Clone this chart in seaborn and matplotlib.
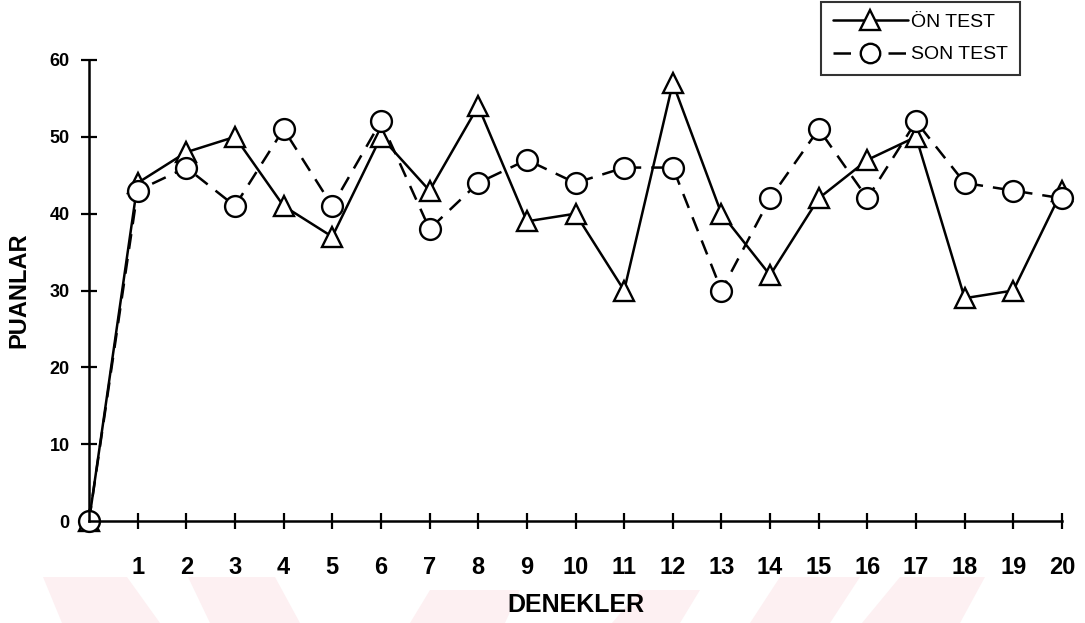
import numpy as np
import pandas as pd
import matplotlib
matplotlib.use("Agg")
import matplotlib.pyplot as plt
from matplotlib.lines import Line2D
from matplotlib.patches import Polygon
import seaborn as sns

# ==========================================================
# DATA
# ==========================================================

denekler = list(range(0, 21))

on_test = [0, 44, 48, 50, 41, 37, 50, 43, 54, 39, 40,
           30, 57, 40, 32, 42, 47, 50, 29, 30, 43]

son_test = [0, 43, 46, 41, 51, 41, 52, 38, 44, 47, 44,
            46, 46, 30, 42, 51, 42, 52, 44, 43, 42]

series_names = ["ÖN TEST", "SON TEST"]

x_ticks = list(range(1, 21))
y_ticks = [0, 10, 20, 30, 40, 50, 60]

df = pd.DataFrame({
    "Denek": denekler * 2,
    "Puan": on_test + son_test,
    "Test": [series_names[0]] * len(on_test) + [series_names[1]] * len(son_test),
})

# ==========================================================
# STYLE
# ==========================================================

sns.set_style("ticks", {
    "axes.edgecolor": "black",
    "axes.labelcolor": "black",
    "text.color": "black",
    "xtick.color": "black",
    "ytick.color": "black",
})
plt.rcParams["font.family"] = ["Liberation Sans", "DejaVu Sans"]

W, H = 1085, 623
fig = plt.figure(figsize=(W / 100, H / 100), dpi=100)
ax = fig.add_axes([89 / W, 1 - 521 / H, (1062 - 89) / W, (521 - 60) / H])
ax.patch.set_alpha(0)

# faint watermark shapes at the bottom of the scan
wm = [
    [(43, 577), (127, 577), (160, 623), (62, 623)],
    [(188, 577), (275, 577), (300, 623), (210, 623)],
    [(430, 590), (520, 590), (505, 623), (410, 623)],
    [(640, 590), (700, 590), (680, 623), (612, 623)],
    [(780, 577), (860, 577), (830, 623), (750, 623)],
    [(900, 577), (985, 577), (960, 623), (862, 623)],
]
for pts in wm:
    fig.patches.append(Polygon([(px / W, 1 - py / H) for px, py in pts],
                               closed=True, transform=fig.transFigure,
                               facecolor="#fdf0f2", edgecolor="none", zorder=-5))

# ==========================================================
# PLOT
# ==========================================================

sns.lineplot(
    data=df,
    x="Denek",
    y="Puan",
    style="Test",
    markers={"ÖN TEST": "^", "SON TEST": "o"},
    dashes={"ÖN TEST": "", "SON TEST": (6, 4)},
    color="black",
    linewidth=1.8,
    markersize=15,
    markerfacecolor="white",
    markeredgecolor="black",
    markeredgewidth=1.7,
    clip_on=False,
    legend=False,
    ax=ax,
)

ax.set_xlim(0, 20)
ax.set_ylim(0, 60)

ax.set_xticks(x_ticks)
ax.set_yticks(y_ticks)
ax.set_xticklabels([str(t) for t in x_ticks], fontsize=17, fontweight="bold")
ax.set_yticklabels([str(t) for t in y_ticks], fontsize=13, fontweight="bold")

ax.tick_params(axis="x", direction="inout", length=11, width=1.6, pad=20)
ax.tick_params(axis="y", direction="inout", length=12, width=1.6, pad=8)

for s in ["top", "right"]:
    ax.spines[s].set_visible(False)
for s in ["left", "bottom"]:
    ax.spines[s].set_linewidth(1.8)

ax.set_xlabel("DENEKLER", fontsize=18, fontweight="bold", labelpad=10)
ax.set_ylabel("PUANLAR", fontsize=17, fontweight="bold", labelpad=14)

# ==========================================================
# LEGEND
# ==========================================================

handles = [
    Line2D([], [], color="black", lw=1.8, marker="^", markersize=14,
           markerfacecolor="white", markeredgecolor="black", markeredgewidth=1.7),
    Line2D([], [], color="black", lw=1.8, marker="o", markersize=14,
           markerfacecolor="white", markeredgecolor="black", markeredgewidth=1.7,
           linestyle=(0, (7, 4))),
]

leg = ax.legend(
    handles,
    series_names,
    loc="upper right",
    bbox_to_anchor=(1020 / W, 1 - 2 / H),
    bbox_transform=fig.transFigure,
    borderaxespad=0,
    frameon=True,
    fancybox=False,
    fontsize=14,
    handlelength=3.9,
    handletextpad=0.15,
    labelspacing=0.75,
    borderpad=0.6,
)
leg.get_frame().set_edgecolor("black")
leg.get_frame().set_linewidth(1.5)

fig.savefig("out.png", dpi=100)
